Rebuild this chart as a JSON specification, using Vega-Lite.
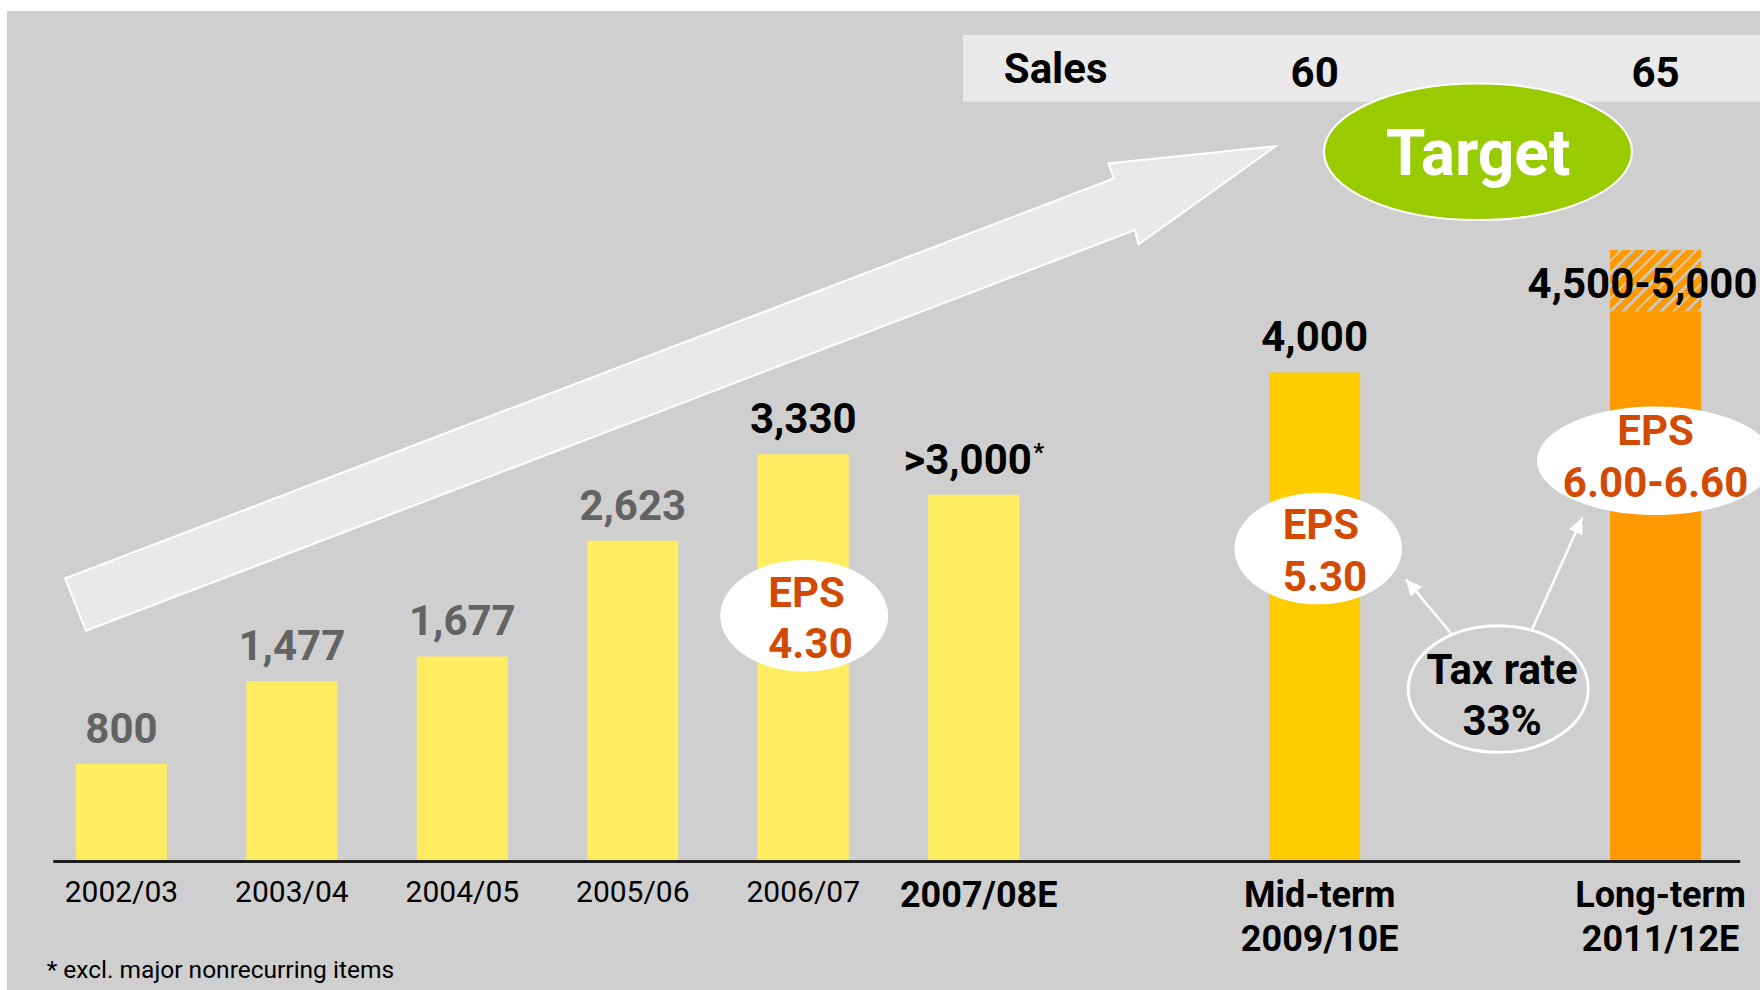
{
  "$schema": "https://vega.github.io/schema/vega-lite/v6.json",
  "width": 1753,
  "height": 979,
  "autosize": "none",
  "padding": {"left": 7, "top": 11, "right": 0, "bottom": 0},
  "background": "#ffffff",
  "config": {
    "view": {"fill": "#cfcfcf", "stroke": null},
    "font": "Roboto",
    "text": {"font": "Roboto", "baseline": "alphabetic"}
  },
  "data": {
    "values": [
      {"period": "2002/03", "ebit": 800, "label": "800", "phase": "past"},
      {"period": "2003/04", "ebit": 1477, "label": "1,477", "phase": "past"},
      {"period": "2004/05", "ebit": 1677, "label": "1,677", "phase": "past"},
      {"period": "2005/06", "ebit": 2623, "label": "2,623", "phase": "past"},
      {"period": "2006/07", "ebit": 3330, "label": "3,330", "phase": "actual", "eps": "4.30"},
      {"period": "2007/08E", "ebit": 3000, "label": ">3,000", "phase": "estimate"},
      {"period": "Mid-term 2009/10E", "ebit": 4000, "label": "4,000", "phase": "mid", "eps": "5.30", "sales": 60},
      {"period": "Long-term 2011/12E", "ebit": 4500, "ebit_high": 5000, "label": "4,500-5,000", "phase": "long", "eps": "6.00-6.60", "sales": 65}
    ]
  },
  "layer": [
    {
      "transform": [{"filter": "datum.period === '2002/03'"}],
      "mark": {"type": "rect", "color": "#e9e9e9"},
      "encoding": {
        "x": {"datum": "2007/08E", "type": "nominal", "bandPosition": 0.382, "axis": null},
        "x2": {"datum": "Long-term 2011/12E", "bandPosition": 1.648},
        "y": {"datum": 6758, "type": "quantitative", "axis": null},
        "y2": {"datum": 6213}
      }
    },
    {
      "transform": [{"filter": "datum.period === '2002/03'"}],
      "mark": {"type": "point", "shape": "M-5.678,2.06L4.811,-1.94L4.756,-2.09L6.429,-2.263L5.058,-1.28L5.02,-1.423L-5.468,2.584Z", "size": 40000, "fill": "#e9e9e9", "stroke": "#ffffff", "strokeWidth": 2, "opacity": 1, "filled": true},
      "encoding": {
        "x": {"datum": "2005/06", "type": "nominal", "axis": null},
        "y": {"datum": 4000, "type": "quantitative", "axis": null}
      }
    },
    {
      "transform": [{"filter": "datum.period === '2002/03'"}],
      "mark": {"type": "point", "shape": "M1.469,0C1.469,0.3772 0.7795,0.683 -0.071,0.683C-0.9215,0.683 -1.611,0.3772 -1.611,0C-1.611,-0.3772 -0.9215,-0.683 -0.071,-0.683C0.7795,-0.683 1.469,-0.3772 1.469,0Z", "size": 40000, "fill": "#99cc00", "stroke": "#ffffff", "strokeWidth": 2, "opacity": 1, "filled": true},
      "encoding": {
        "x": {"datum": "gap2", "type": "nominal", "axis": null},
        "y": {"datum": 5804, "type": "quantitative", "axis": null}
      }
    },
    {
      "transform": [{"filter": "datum.period === '2002/03'"}],
      "mark": {"type": "text", "text": "Target", "fontSize": 64, "fontWeight": "bold", "color": "#ffffff", "dx": -7},
      "encoding": {
        "x": {"datum": "gap2", "type": "nominal", "axis": null},
        "y": {"datum": 5614, "type": "quantitative", "axis": null}
      }
    },
    {
      "transform": [{"filter": "datum.period === '2002/03'"}],
      "mark": {"type": "text", "text": "Sales", "fontSize": 42, "fontWeight": "bold", "color": "#000000"},
      "encoding": {
        "x": {"datum": "2007/08E", "type": "nominal", "bandPosition": 1.4, "axis": null},
        "y": {"datum": 6364, "type": "quantitative", "axis": null}
      }
    },
    {
      "transform": [{"filter": "isValid(datum.sales)"}],
      "mark": {"type": "text", "fontSize": 42, "fontWeight": "bold", "color": "#000000"},
      "encoding": {
        "x": {"field": "period", "type": "nominal", "axis": null},
        "y": {"datum": 6336, "type": "quantitative", "axis": null},
        "text": {"field": "sales", "type": "quantitative"}
      }
    },
    {
      "mark": {"type": "bar"},
      "encoding": {
        "x": {
          "field": "period",
          "type": "nominal",
          "scale": {
            "domain": ["2002/03", "2003/04", "2004/05", "2005/06", "2006/07", "2007/08E", "gap1", "Mid-term 2009/10E", "gap2", "Long-term 2011/12E"],
            "paddingInner": 0.466,
            "paddingOuter": 0.375,
            "align": 0.539,
            "round": false
          },
          "axis": null
        },
        "y": {
          "field": "ebit",
          "type": "quantitative",
          "scale": {"domain": [-1050, 6955], "nice": false, "zero": false},
          "axis": null
        },
        "color": {
          "field": "phase",
          "type": "nominal",
          "scale": {"domain": ["past", "actual", "estimate", "mid", "long"], "range": ["#ffed61", "#ffed61", "#ffed61", "#ffcc00", "#ff9900"]},
          "legend": null
        }
      }
    },
    {
      "transform": [{"filter": "datum.phase === 'long'"}],
      "mark": {
        "type": "bar",
        "color": {
          "gradient": "linear",
          "x1": 0, "y1": 0, "x2": 1.153, "y2": 0.772,
          "stops": [
            {"offset": 0, "color": "#ff9900"}, {"offset": 0.0583, "color": "#ff9900"}, {"offset": 0.0583, "color": "#c8c8c8"}, {"offset": 0.0833, "color": "#c8c8c8"},
            {"offset": 0.0833, "color": "#ff9900"}, {"offset": 0.1417, "color": "#ff9900"}, {"offset": 0.1417, "color": "#c8c8c8"}, {"offset": 0.1667, "color": "#c8c8c8"},
            {"offset": 0.1667, "color": "#ff9900"}, {"offset": 0.225, "color": "#ff9900"}, {"offset": 0.225, "color": "#c8c8c8"}, {"offset": 0.25, "color": "#c8c8c8"},
            {"offset": 0.25, "color": "#ff9900"}, {"offset": 0.3083, "color": "#ff9900"}, {"offset": 0.3083, "color": "#c8c8c8"}, {"offset": 0.3333, "color": "#c8c8c8"},
            {"offset": 0.3333, "color": "#ff9900"}, {"offset": 0.3917, "color": "#ff9900"}, {"offset": 0.3917, "color": "#c8c8c8"}, {"offset": 0.4167, "color": "#c8c8c8"},
            {"offset": 0.4167, "color": "#ff9900"}, {"offset": 0.475, "color": "#ff9900"}, {"offset": 0.475, "color": "#c8c8c8"}, {"offset": 0.5, "color": "#c8c8c8"},
            {"offset": 0.5, "color": "#ff9900"}, {"offset": 0.5583, "color": "#ff9900"}, {"offset": 0.5583, "color": "#c8c8c8"}, {"offset": 0.5833, "color": "#c8c8c8"},
            {"offset": 0.5833, "color": "#ff9900"}, {"offset": 0.6417, "color": "#ff9900"}, {"offset": 0.6417, "color": "#c8c8c8"}, {"offset": 0.6667, "color": "#c8c8c8"},
            {"offset": 0.6667, "color": "#ff9900"}, {"offset": 0.725, "color": "#ff9900"}, {"offset": 0.725, "color": "#c8c8c8"}, {"offset": 0.75, "color": "#c8c8c8"},
            {"offset": 0.75, "color": "#ff9900"}, {"offset": 0.8083, "color": "#ff9900"}, {"offset": 0.8083, "color": "#c8c8c8"}, {"offset": 0.8333, "color": "#c8c8c8"},
            {"offset": 0.8333, "color": "#ff9900"}, {"offset": 0.8917, "color": "#ff9900"}, {"offset": 0.8917, "color": "#c8c8c8"}, {"offset": 0.9167, "color": "#c8c8c8"},
            {"offset": 0.9167, "color": "#ff9900"}, {"offset": 0.975, "color": "#ff9900"}, {"offset": 0.975, "color": "#c8c8c8"}, {"offset": 1, "color": "#c8c8c8"}
          ]
        }
      },
      "encoding": {
        "x": {"field": "period", "type": "nominal", "axis": null},
        "y": {"field": "ebit", "type": "quantitative", "axis": null},
        "y2": {"field": "ebit_high"}
      }
    },
    {
      "transform": [{"filter": "datum.phase !== 'long' && datum.phase !== 'estimate'"}],
      "mark": {"type": "text", "fontSize": 42, "fontWeight": "bold", "dy": -21},
      "encoding": {
        "x": {"field": "period", "type": "nominal", "axis": null},
        "y": {"field": "ebit", "type": "quantitative", "axis": null},
        "text": {"field": "label", "type": "nominal"},
        "color": {"condition": {"test": "datum.phase === 'past'", "value": "#636363"}, "value": "#000000"}
      }
    },
    {
      "transform": [{"filter": "datum.phase === 'estimate'"}],
      "mark": {"type": "text", "fontSize": 42, "fontWeight": "bold", "dy": -21, "dx": -6, "color": "#000000"},
      "encoding": {
        "x": {"field": "period", "type": "nominal", "axis": null},
        "y": {"field": "ebit", "type": "quantitative", "axis": null},
        "text": {"field": "label", "type": "nominal"}
      }
    },
    {
      "transform": [{"filter": "datum.phase === 'long'"}],
      "mark": {"type": "text", "fontSize": 42, "fontWeight": "bold", "dy": -13.4, "dx": -13, "color": "#000000"},
      "encoding": {
        "x": {"field": "period", "type": "nominal", "axis": null},
        "y": {"field": "ebit", "type": "quantitative", "axis": null},
        "text": {"field": "label", "type": "nominal"}
      }
    },
    {
      "transform": [{"filter": "datum.period === '2007/08E'"}],
      "mark": {"type": "text", "text": "*", "fontSize": 24, "fontWeight": "bold", "dx": 65, "dy": -35, "color": "#000000"},
      "encoding": {
        "x": {"field": "period", "type": "nominal", "axis": null},
        "y": {"field": "ebit", "type": "quantitative", "axis": null}
      }
    },
    {
      "transform": [{"filter": "datum.period === '2006/07'"}],
      "encoding": {
        "x": {"field": "period", "type": "nominal", "axis": null},
        "y": {"datum": 2010, "type": "quantitative", "axis": null}
      },
      "layer": [
        {"mark": {"type": "point", "shape": "M0.85,0C0.85,0.3082 0.4739,0.558 0.01,0.558C-0.4539,0.558 -0.83,0.3082 -0.83,0C-0.83,-0.3082 -0.4539,-0.558 0.01,-0.558C0.4739,-0.558 0.85,-0.3082 0.85,0Z", "size": 40000, "fill": "#ffffff", "strokeWidth": 0, "opacity": 1, "filled": true}},
        {"mark": {"type": "text", "text": "EPS", "align": "left", "dx": -35, "dy": -9, "fontSize": 42, "fontWeight": "bold", "color": "#d24a04"}},
        {"mark": {"type": "text", "align": "left", "dx": -35, "dy": 42.5, "fontSize": 42, "fontWeight": "bold", "color": "#d24a04"}, "encoding": {"text": {"field": "eps", "type": "nominal"}}}
      ]
    },
    {
      "transform": [{"filter": "datum.phase === 'mid'"}],
      "encoding": {
        "x": {"field": "period", "type": "nominal", "axis": null},
        "y": {"datum": 2560, "type": "quantitative", "axis": null}
      },
      "layer": [
        {"mark": {"type": "point", "shape": "M0.874,0C0.874,0.3082 0.4988,0.558 0.036,0.558C-0.4268,0.558 -0.802,0.3082 -0.802,0C-0.802,-0.3082 -0.4268,-0.558 0.036,-0.558C0.4988,-0.558 0.874,-0.3082 0.874,0Z", "size": 40000, "fill": "#ffffff", "strokeWidth": 0, "opacity": 1, "filled": true}},
        {"mark": {"type": "text", "text": "EPS", "align": "left", "dx": -32, "dy": -9.5, "fontSize": 42, "fontWeight": "bold", "color": "#d24a04"}},
        {"mark": {"type": "text", "align": "left", "dx": -32, "dy": 42.2, "fontSize": 42, "fontWeight": "bold", "color": "#d24a04"}, "encoding": {"text": {"field": "eps", "type": "nominal"}}}
      ]
    },
    {
      "transform": [{"filter": "datum.phase === 'long'"}],
      "encoding": {
        "x": {"field": "period", "type": "nominal", "axis": null},
        "y": {"datum": 3277, "type": "quantitative", "axis": null}
      },
      "layer": [
        {"mark": {"type": "point", "shape": "M1.185,0C1.185,0.2993 0.6545,0.542 0,0.542C-0.6545,0.542 -1.185,0.2993 -1.185,0C-1.185,-0.2993 -0.6545,-0.542 0,-0.542C0.6545,-0.542 1.185,-0.2993 1.185,0Z", "size": 40000, "fill": "#ffffff", "strokeWidth": 0, "opacity": 1, "filled": true}},
        {"mark": {"type": "text", "text": "EPS", "dy": -15.8, "fontSize": 42, "fontWeight": "bold", "color": "#d24a04"}},
        {"mark": {"type": "text", "dy": 35.9, "fontSize": 42, "fontWeight": "bold", "color": "#d24a04"}, "encoding": {"text": {"field": "eps", "type": "nominal"}}}
      ]
    },
    {
      "transform": [{"filter": "datum.period === '2002/03'"}],
      "mark": {"type": "point", "shape": "M1.032,0C1.032,0.3496 0.6291,0.633 0.132,0.633C-0.3651,0.633 -0.768,0.3496 -0.768,0C-0.768,-0.3496 -0.3651,-0.633 0.132,-0.633C0.6291,-0.633 1.032,-0.3496 1.032,0Z", "size": 40000, "filled": false, "stroke": "#ffffff", "strokeWidth": 3, "opacity": 1},
      "encoding": {
        "x": {"datum": "gap2", "type": "nominal", "axis": null},
        "y": {"datum": 1411, "type": "quantitative", "axis": null}
      }
    },
    {
      "transform": [{"filter": "datum.period === '2002/03'"}],
      "mark": {"type": "text", "text": ["Tax rate", "33%"], "lineHeight": 50.7, "dx": 17, "fontSize": 42, "fontWeight": "bold", "color": "#000000"},
      "encoding": {
        "x": {"datum": "gap2", "type": "nominal", "axis": null},
        "y": {"datum": 1450, "type": "quantitative", "axis": null}
      }
    },
    {
      "transform": [{"filter": "datum.period === '2002/03'"}],
      "mark": {"type": "rule", "color": "#ffffff", "strokeWidth": 2.5},
      "encoding": {
        "x": {"datum": "gap2", "type": "nominal", "bandPosition": 0.125, "axis": null},
        "x2": {"datum": "gap2", "bandPosition": -0.369},
        "y": {"datum": 1867, "type": "quantitative", "axis": null},
        "y2": {"datum": 2308}
      }
    },
    {
      "transform": [{"filter": "datum.period === '2002/03'"}],
      "mark": {"type": "rule", "color": "#ffffff", "strokeWidth": 2.5},
      "encoding": {
        "x": {"datum": "gap2", "type": "nominal", "bandPosition": 1.004, "axis": null},
        "x2": {"datum": "gap2", "bandPosition": 1.568},
        "y": {"datum": 1880, "type": "quantitative", "axis": null},
        "y2": {"datum": 2812}
      }
    },
    {
      "transform": [{"filter": "datum.period === '2002/03'"}],
      "mark": {"type": "point", "shape": "M0,0L-0.075,0.16L0.075,0.16Z", "size": 40000, "fill": "#ffffff", "strokeWidth": 0, "opacity": 1, "filled": true, "angle": -39.8},
      "encoding": {
        "x": {"datum": "gap2", "type": "nominal", "bandPosition": -0.369, "axis": null},
        "y": {"datum": 2308, "type": "quantitative", "axis": null}
      }
    },
    {
      "transform": [{"filter": "datum.period === '2002/03'"}],
      "mark": {"type": "point", "shape": "M0,0L-0.075,0.16L0.075,0.16Z", "size": 40000, "fill": "#ffffff", "strokeWidth": 0, "opacity": 1, "filled": true, "angle": 24.2},
      "encoding": {
        "x": {"datum": "gap2", "type": "nominal", "bandPosition": 1.568, "axis": null},
        "y": {"datum": 2812, "type": "quantitative", "axis": null}
      }
    },
    {
      "transform": [{"filter": "datum.period === '2002/03'"}],
      "mark": {"type": "rule", "color": "#1e1e1e", "strokeWidth": 3},
      "encoding": {
        "x": {"datum": "2002/03", "type": "nominal", "bandPosition": -0.249, "axis": null},
        "x2": {"datum": "Long-term 2011/12E", "bandPosition": 1.43},
        "y": {"datum": 0, "type": "quantitative", "axis": null}
      }
    },
    {
      "transform": [{"filter": "indexof(datum.period, 'E') < 0"}],
      "mark": {"type": "text", "fontSize": 30, "fontWeight": "normal", "dy": 40, "color": "#000000"},
      "encoding": {
        "x": {"field": "period", "type": "nominal", "axis": null},
        "y": {"datum": 0, "type": "quantitative", "axis": null},
        "text": {"field": "period", "type": "nominal"}
      }
    },
    {
      "transform": [{"filter": "indexof(datum.period, 'E') >= 0"}],
      "mark": {"type": "text", "fontSize": 36, "fontWeight": "bold", "dy": 45, "dx": 5, "lineBreak": " ", "lineHeight": 44, "color": "#000000"},
      "encoding": {
        "x": {"field": "period", "type": "nominal", "axis": null},
        "y": {"datum": 0, "type": "quantitative", "axis": null},
        "text": {"field": "period", "type": "nominal"}
      }
    },
    {
      "transform": [{"filter": "datum.period === '2002/03'"}],
      "mark": {"type": "text", "text": "* excl. major nonrecurring items", "align": "left", "dx": -74.7, "fontSize": 24.5, "color": "#000000"},
      "encoding": {
        "x": {"datum": "2002/03", "type": "nominal", "axis": null},
        "y": {"datum": -955, "type": "quantitative", "axis": null}
      }
    }
  ]
}
